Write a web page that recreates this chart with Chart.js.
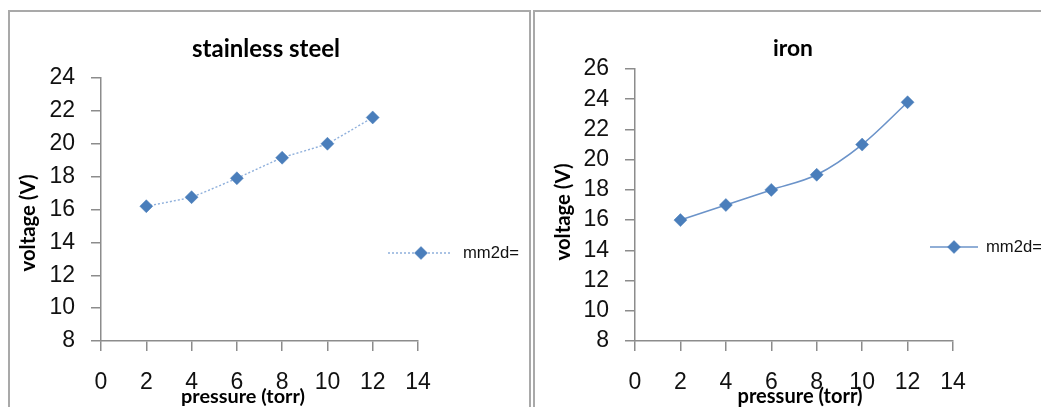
<!DOCTYPE html>
<html><head><meta charset="utf-8">
<script src="https://cdn.jsdelivr.net/npm/chart.js@4/dist/chart.umd.min.js"></script>
<style>
html,body{margin:0;padding:0;background:#fff;width:1041px;height:407px;overflow:hidden;position:relative}
.panel{position:absolute;border:2px solid #a9a9a9;border-bottom:none}
#p1{left:8px;top:10px;width:519px;height:420px}
#p2{left:533px;top:10px;width:520px;height:420px;border-right:none}
canvas{position:absolute;top:0}
#c1{left:0}
#c2{left:531px}
</style></head><body>
<div class="panel" id="p1"></div><div class="panel" id="p2"></div>
<canvas id="c1" width="531" height="407"></canvas>
<canvas id="c2" width="510" height="407"></canvas>
<script>
// ---- data ----
const pressure = [2, 4, 6, 8, 10, 12];
const steelVoltage = [16.2, 16.75, 17.9, 19.15, 20.0, 21.6];
const ironVoltage = [16.0, 17.0, 18.0, 19.0, 21.0, 23.8];
const xTicks = [0, 2, 4, 6, 8, 10, 12, 14];
const steelYTicks = [8, 10, 12, 14, 16, 18, 20, 22, 24];
const ironYTicks = [8, 10, 12, 14, 16, 18, 20, 22, 24, 26];
const seriesLabel = 'mm2d=';
const steelTitle = 'stainless steel';
const ironTitle = 'iron';
const xTitle = 'pressure (torr)';
const yTitle = 'voltage (V)';

const TICK_FONT = "'Liberation Sans', Arial, sans-serif";
const BOLD_FONT = "Lato, 'Open Sans', sans-serif";

const extras = {
  id: 'extras',
  afterDraw(chart, args, o) {
    const ctx = chart.ctx;
    const fitSize = (text, weight, family, target) => {
      ctx.font = `${weight} 20px ${family}`;
      return 20 * target / ctx.measureText(text).width;
    };
    ctx.save();
    ctx.fillStyle = '#000';
    ctx.textAlign = 'center';
    ctx.textBaseline = 'middle';
    // chart title
    let s = fitSize(o.title.text, 'bold', BOLD_FONT, o.title.w);
    ctx.font = `bold ${s}px ${BOLD_FONT}`;
    ctx.fillText(o.title.text, o.title.x, o.title.y);
    // x title
    s = fitSize(o.xtitle.text, 'bold', BOLD_FONT, o.xtitle.w);
    ctx.font = `bold ${s}px ${BOLD_FONT}`;
    ctx.fillText(o.xtitle.text, o.xtitle.x, o.xtitle.y);
    // y title
    s = fitSize(o.ytitle.text, 'bold', BOLD_FONT, o.ytitle.w);
    ctx.font = `bold ${s}px ${BOLD_FONT}`;
    ctx.save();
    ctx.translate(o.ytitle.x, o.ytitle.y);
    ctx.rotate(-Math.PI / 2);
    ctx.fillText(o.ytitle.text, 0, 0);
    ctx.restore();
    // legend
    const ds = chart.data.datasets[0];
    const L = o.legend;
    ctx.strokeStyle = ds.borderColor;
    ctx.lineWidth = ds.borderWidth;
    ctx.setLineDash(ds.borderDash || []);
    ctx.beginPath();
    ctx.moveTo(L.x1, L.y); ctx.lineTo(L.x2, L.y); ctx.stroke();
    ctx.setLineDash([]);
    ctx.fillStyle = ds.pointBackgroundColor;
    ctx.strokeStyle = ds.pointBorderColor;
    ctx.lineWidth = ds.pointBorderWidth;
    Chart.helpers.drawPoint(ctx, {pointStyle: 'rectRot', rotation: 0, radius: L.r, borderWidth: ds.pointBorderWidth}, L.mx, L.y);
    s = fitSize(ds.label, 'normal', TICK_FONT, L.tw);
    ctx.font = `${s}px ${TICK_FONT}`;
    ctx.fillStyle = '#111';
    ctx.textAlign = 'left';
    ctx.fillText(ds.label, L.tx, L.y);
    ctx.restore();
  }
};

function axisCommon(ticksArr, pad) {
  return {
    type: 'linear',
    min: ticksArr[0],
    max: ticksArr[ticksArr.length - 1],
    afterBuildTicks: sc => { sc.ticks = ticksArr.map(v => ({value: v})); },
    grid: {display: true, drawOnChartArea: false, drawTicks: true, tickLength: 10, color: '#8c8c8c', lineWidth: 1.5},
    border: {display: true, color: '#8c8c8c', width: 1.5},
    ticks: {font: {family: TICK_FONT, size: 23}, color: '#111', padding: pad, autoSkip: false, maxRotation: 0, minRotation: 0}
  };
}

function makeChart(id, values, yTicksArr, dsStyle, yWidth, padTop, padRight, extrasOpts) {
  const x = axisCommon(xTicks, 18);
  x.afterFit = sc => { sc.height = 66; };
  const y = axisCommon(yTicksArr, 16);
  y.afterFit = sc => { sc.width = yWidth; };
  return new Chart(document.getElementById(id), {
    type: 'line',
    data: {
      datasets: [Object.assign({
        label: seriesLabel,
        data: pressure.map((p, i) => ({x: p, y: values[i]})),
        pointStyle: 'rectRot',
        pointRadius: 6.5,
        pointHoverRadius: 6.5,
        pointBackgroundColor: '#4a7ebb',
        pointBorderColor: '#4a7ebb',
        pointBorderWidth: 0.5,
        fill: false
      }, dsStyle)]
    },
    options: {
      responsive: false,
      animation: false,
      events: [],
      layout: {padding: {top: padTop, right: padRight, left: 0, bottom: 0}},
      scales: {x, y},
      plugins: {legend: {display: false}, title: {display: false}, tooltip: {enabled: false}, extras: extrasOpts}
    },
    plugins: [extras]
  });
}

makeChart('c1', steelVoltage, steelYTicks,
  {borderColor: '#8fb0dc', borderWidth: 1.4, borderDash: [2, 2], tension: 0.1},
  101, 78, 113,
  {title: {text: steelTitle, x: 266, y: 49, w: 148},
   xtitle: {text: xTitle, x: 243, y: 397, w: 124},
   ytitle: {text: yTitle, x: 28, y: 223, w: 97},
   legend: {x1: 388, x2: 452, y: 253, mx: 421, r: 6.5, tx: 463, tw: 56}});

makeChart('c2', ironVoltage, ironYTicks,
  {borderColor: '#6b93c9', borderWidth: 1.6, tension: 0.33},
  104, 69, 88,
  {title: {text: ironTitle, x: 262, y: 49, w: 40},
   xtitle: {text: xTitle, x: 269, y: 397, w: 125},
   ytitle: {text: yTitle, x: 32, y: 212, w: 97},
   legend: {x1: 399, x2: 447, y: 247, mx: 423, r: 6.5, tx: 455, tw: 56}});
</script>
</body></html>
